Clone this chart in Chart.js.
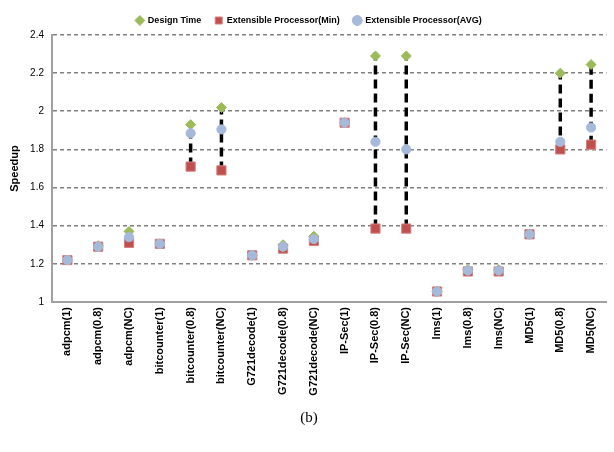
<!DOCTYPE html>
<html>
<head>
<meta charset="utf-8">
<script src="https://cdn.jsdelivr.net/npm/chart.js@4.4.1/dist/chart.umd.min.js"></script>
<style>
  html, body { margin: 0; padding: 0; background: #fff; }
  #wrap { width: 614px; height: 452px; }
</style>
</head>
<body>
<div id="wrap"><canvas id="grafica" width="614" height="452"></canvas></div>
<script>
const categorias = ["adpcm(1)", "adpcm(0.8)", "adpcm(NC)", "bitcounter(1)", "bitcounter(0.8)", "bitcounter(NC)",
    "G721decode(1)", "G721decode(0.8)", "G721decode(NC)", "IP-Sec(1)", "IP-Sec(0.8)", "IP-Sec(NC)",
    "lms(1)", "lms(0.8)", "lms(NC)", "MD5(1)", "MD5(0.8)", "MD5(NC)"];

const designTime = [1.22, 1.295, 1.37, 1.305, 1.93, 2.02, 1.245, 1.30, 1.345, 1.94, 2.29, 2.29, 1.055, 1.17, 1.17, 1.355, 2.20, 2.245];
const procMin    = [1.22, 1.29, 1.31, 1.305, 1.71, 1.69, 1.245, 1.28, 1.32, 1.94, 1.385, 1.385, 1.055, 1.16, 1.16, 1.355, 1.80, 1.825];
const procAvg    = [1.22, 1.29, 1.34, 1.305, 1.885, 1.905, 1.245, 1.29, 1.33, 1.94, 1.84, 1.80, 1.055, 1.165, 1.165, 1.355, 1.84, 1.915];

const yTicks = [1, 1.2, 1.4, 1.6, 1.8, 2, 2.2, 2.4];

// segmentos punteados entre el minimo y el design time
const rangos = [];
categorias.forEach((c, i) => {
    if (designTime[i] - procMin[i] > 0.1) {
        rangos.push({ x: c, y: procMin[i] });
        rangos.push({ x: c, y: designTime[i] });
        rangos.push({ x: c, y: null });
    }
});

const ctx = document.getElementById("grafica");
const fuente = "'Liberation Sans', Arial, sans-serif";

new Chart(ctx, {
    type: "line",
    data: {
        labels: categorias,
        datasets: [
            {
                label: "Design Time",
                data: designTime,
                showLine: false,
                pointStyle: "rectRot",
                pointRadius: 5,
                backgroundColor: "#9BBB59",
                borderColor: "#9BBB59",
                borderWidth: 1,
                order: 3
            },
            {
                label: "Extensible Processor(Min)",
                data: procMin,
                showLine: false,
                pointStyle: "rect",
                pointRadius: 6.5,
                backgroundColor: "#C0504D",
                borderColor: "#D4807E",
                borderWidth: 1,
                order: 2
            },
            {
                label: "Extensible Processor(AVG)",
                data: procAvg,
                showLine: false,
                pointStyle: "circle",
                pointRadius: 4.6,
                backgroundColor: "#A5B9DB",
                borderColor: "#A5B9DB",
                borderWidth: 1,
                order: 1
            },
            {
                label: "rango",
                data: rangos,
                borderColor: "#000",
                borderWidth: 3.5,
                borderDash: [9, 5],
                pointRadius: 0,
                spanGaps: false,
                order: 4
            }
        ]
    },
    options: {
        responsive: false,
        animation: false,
        layout: { padding: { left: 6, right: 2, top: 2, bottom: 0 } },
        plugins: {
            tooltip: { enabled: false },
            legend: {
                position: "top",
                labels: {
                    usePointStyle: true,
                    boxWidth: 7,
                    boxHeight: 7,
                    padding: 14,
                    color: "#000",
                    font: { family: fuente, size: 9, weight: "bold" },
                    filter: item => item.text !== "rango",
                    sort: (a, b) => a.datasetIndex - b.datasetIndex
                }
            },
            title: {
                display: true,
                text: "(b)",
                position: "bottom",
                color: "#000",
                font: { family: "'Liberation Serif', 'Times New Roman', serif", size: 15, weight: "normal" },
                padding: { top: 7, bottom: 25 }
            }
        },
        scales: {
            x: {
                offset: true,
                afterFit: s => { s.height = 100; },
                grid: { display: true, offset: true, drawOnChartArea: false, drawTicks: false },
                border: { display: true, color: "#A0A0A0", width: 2 },
                ticks: {
                    autoSkip: false,
                    minRotation: 90,
                    maxRotation: 90,
                    padding: 5,
                    color: "#000",
                    font: { family: fuente, size: 11, weight: "bold" }
                }
            },
            y: {
                min: 1,
                max: 2.4,
                afterFit: s => { s.width = 46; },
                afterBuildTicks: s => { s.ticks = yTicks.map(v => ({ value: v })); },
                grid: { color: "#808080", lineWidth: 1.6, drawTicks: false },
                border: { display: true, color: "#A0A0A0", width: 2, dash: [4, 3] },
                ticks: {
                    padding: 8,
                    color: "#000",
                    font: { family: fuente, size: 10 },
                    callback: v => String(Math.round(v * 10) / 10)
                },
                title: {
                    display: true,
                    text: "Speedup",
                    color: "#000",
                    font: { family: fuente, size: 11, weight: "bold" },
                    padding: { top: 2, bottom: 0 }
                }
            }
        }
    }
});
</script>
</body>
</html>
